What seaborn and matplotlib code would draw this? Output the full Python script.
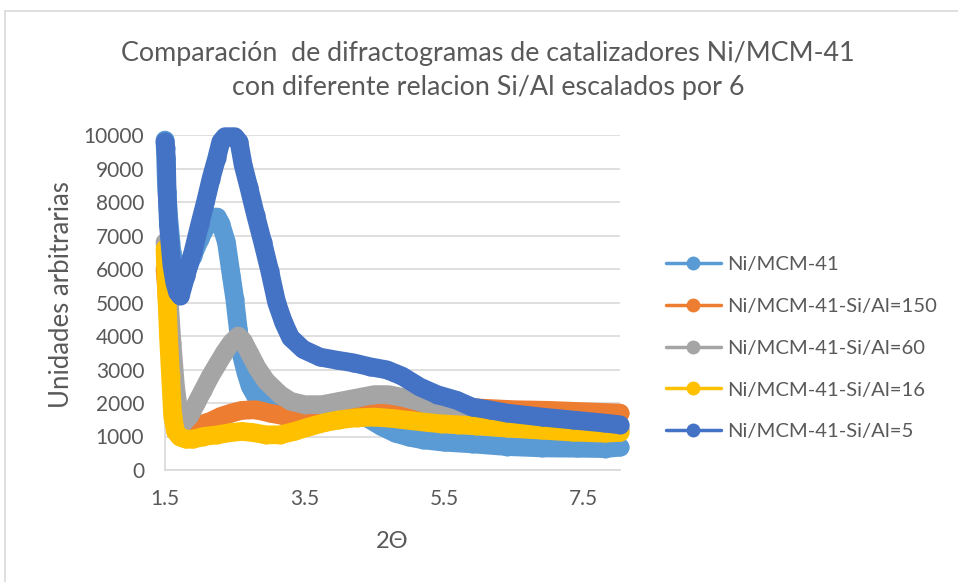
import pandas as pd
import numpy as np
import matplotlib
matplotlib.use("Agg")
import matplotlib.pyplot as plt
import seaborn as sns

# series (2-theta vs arbitrary units)
x_mcm41 = [1.50, 1.52, 1.55, 1.60, 1.70, 1.80, 1.90, 2.00, 2.10, 2.20, 2.25, 2.30, 2.38,
           2.45, 2.50, 2.55, 2.60, 2.66, 2.72, 2.80, 2.90, 3.05, 3.20, 3.50, 4.00, 4.40,
           4.60, 4.80, 5.00, 5.20, 5.50, 5.90, 6.40, 6.90, 7.40, 7.80, 8.02]
y_mcm41 = [9850, 8600, 7600, 6500, 5700, 5900, 6400, 6900, 7300, 7550, 7550, 7350, 6800,
           5800, 5100, 4200, 3400, 2900, 2500, 2200, 2000, 1850, 1780, 1700, 1650, 1550,
           1300, 1100, 980, 900, 830, 780, 700, 660, 650, 640, 680]

x_150 = [1.50, 1.52, 1.55, 1.60, 1.65, 1.70, 1.76, 1.85, 2.00, 2.15, 2.30, 2.45, 2.60,
         2.80, 3.00, 3.20, 3.50, 3.80, 4.10, 4.45, 4.75, 5.00, 5.25, 5.50, 6.00, 6.50,
         7.00, 7.50, 8.02]
y_150 = [6000, 5500, 4500, 3000, 2000, 1400, 1150, 1200, 1350, 1450, 1600, 1700, 1780,
         1800, 1700, 1620, 1560, 1600, 1700, 1850, 1920, 1980, 1980, 1920, 1850, 1800,
         1780, 1740, 1700]

x_60 = [1.50, 1.52, 1.55, 1.60, 1.65, 1.70, 1.76, 1.85, 1.95, 2.05, 2.15, 2.25, 2.35,
        2.45, 2.55, 2.62, 2.72, 2.82, 2.95, 3.05, 3.15, 3.30, 3.50, 3.75, 4.00, 4.25,
        4.50, 4.70, 4.95, 5.20, 5.45, 5.70, 6.00, 6.50, 7.00, 7.50, 8.02]
y_60 = [6800, 6400, 5400, 3800, 2500, 1700, 1400, 1600, 2000, 2400, 2800, 3150, 3500,
        3800, 4000, 3850, 3450, 3050, 2650, 2450, 2250, 2050, 1950, 1950, 2050, 2150,
        2250, 2250, 2150, 2000, 1850, 1680, 1520, 1400, 1320, 1260, 1220]

x_16 = [1.50, 1.51, 1.53, 1.55, 1.58, 1.61, 1.65, 1.71, 1.80, 1.90, 2.05, 2.25, 2.45,
        2.60, 2.75, 2.95, 3.15, 3.35, 3.55, 3.80, 4.00, 4.25, 4.50, 4.75, 5.00, 5.25,
        5.45, 5.70, 5.95, 6.40, 6.90, 7.35, 7.80, 8.02]
y_16 = [6600, 6000, 5000, 4000, 2800, 1600, 1150, 990, 920, 920, 1000, 1050, 1120,
        1150, 1120, 1050, 1050, 1150, 1280, 1420, 1500, 1560, 1580, 1540, 1480, 1420,
        1380, 1350, 1320, 1250, 1190, 1130, 1100, 1120]

x_5 = [1.50, 1.51, 1.52, 1.53, 1.55, 1.57, 1.60, 1.64, 1.68, 1.72, 1.80, 1.90, 2.00,
       2.08, 2.16, 2.24, 2.30, 2.36, 2.43, 2.50, 2.56, 2.62, 2.70, 2.80, 2.90, 3.00,
       3.10, 3.20, 3.30, 3.48, 3.72, 3.96, 4.20, 4.44, 4.68, 4.90, 5.15, 5.40, 5.68,
       5.90, 6.16, 6.40, 6.90, 7.35, 7.80, 8.02]
y_5 = [9800, 9600, 9300, 8300, 7300, 6800, 6100, 5600, 5300, 5200, 5800, 6500, 7350,
       8000, 8700, 9300, 9800, 9950, 9950, 9950, 9800, 9100, 8450, 7600, 6800, 5950,
       5000, 4400, 3950, 3600, 3370, 3280, 3200, 3080, 2990, 2800, 2480, 2250, 2080,
       1880, 1790, 1700, 1580, 1490, 1400, 1350]

labels = ["Ni/MCM-41", "Ni/MCM-41-Si/Al=150", "Ni/MCM-41-Si/Al=60",
          "Ni/MCM-41-Si/Al=16", "Ni/MCM-41-Si/Al=5"]
xs = [x_mcm41, x_150, x_60, x_16, x_5]
ys = [y_mcm41, y_150, y_60, y_16, y_5]
colors = ["#5B9BD5", "#ED7D31", "#A5A5A5", "#FFC000", "#4472C4"]

df = pd.concat(
    [pd.DataFrame({"x": x, "y": y, "serie": lab}) for x, y, lab in zip(xs, ys, labels)],
    ignore_index=True,
)

sns.set_style("white")
plt.rcParams["font.family"] = ["Lato", "DejaVu Sans"]
txt = "#595959"
grid = "#D9D9D9"

fig = plt.figure(figsize=(9.58, 5.82), dpi=100)
ax = fig.add_axes([165 / 958, 1 - 470 / 582, (620 - 165) / 958, (470 - 135) / 582])

# thick line + dots to mimic the dense marker bands of the original
sns.lineplot(
    data=df, x="x", y="y", hue="serie", hue_order=labels, palette=colors,
    sort=False, estimator=None, marker="o", markersize=13, markeredgewidth=0,
    linewidth=13.5, solid_joinstyle="round", solid_capstyle="round",
    clip_on=False, ax=ax,
)
# series sit above the axis lines, like in Excel
for ln in ax.lines:
    ln.set_zorder(3)

ax.set_xlim(1.5, 8.02)
ax.set_ylim(0, 10000)
ax.set_xticks([1.5, 3.5, 5.5, 7.5])
ax.set_xticklabels(["1.5", "3.5", "5.5", "7.5"])
ax.set_yticks(range(0, 10001, 1000))
ax.yaxis.grid(True, color=grid, linewidth=1.2)
ax.set_axisbelow(True)
for s in ["top", "right"]:
    ax.spines[s].set_visible(False)
for s in ["left", "bottom"]:
    ax.spines[s].set_color(grid)
    ax.spines[s].set_linewidth(1.2)
    ax.spines[s].set_zorder(1)
ax.tick_params(axis="both", length=0, labelsize=15, labelcolor=txt)
ax.tick_params(axis="y", pad=15)
ax.tick_params(axis="x", pad=14)
ax.set_xlabel("")
ax.set_ylabel("")

h, l = ax.get_legend_handles_labels()
leg = ax.legend(
    h, l, loc="center left", bbox_to_anchor=(666 / 958, 1 - 348 / 582),
    bbox_transform=fig.transFigure, frameon=False, fontsize=14.6,
    labelspacing=1.22, handlelength=2.7, handletextpad=0.3,
    borderpad=0, borderaxespad=0,
)
for t in leg.get_texts():
    t.set_color(txt)
for ln in leg.get_lines():
    ln.set_linewidth(2.5)
    ln.set_markersize(10)

fig.text(488 / 958, 1 - 71 / 582,
         "Comparación  de difractogramas de catalizadores Ni/MCM-41\n"
         "con diferente relacion Si/Al escalados por 6",
         ha="center", va="center", fontsize=19.4, color=txt, linespacing=1.45)
fig.text(62 / 958, 1 - 295 / 582, "Unidades arbitrarias", rotation=90,
         ha="center", va="center", fontsize=18.5, color=txt)
fig.text(392 / 958, 1 - 542 / 582, "2Θ", ha="center", va="center",
         fontsize=17, color=txt)

# thin chart frame on the top and left edges
fig.add_artist(plt.Line2D([5 / 958, 1], [1 - 11 / 582, 1 - 11 / 582],
                          transform=fig.transFigure, color=grid, linewidth=1.2))
fig.add_artist(plt.Line2D([5 / 958, 5 / 958], [0, 1 - 11 / 582],
                          transform=fig.transFigure, color=grid, linewidth=1.2))

fig.savefig("out.png", dpi=100)
